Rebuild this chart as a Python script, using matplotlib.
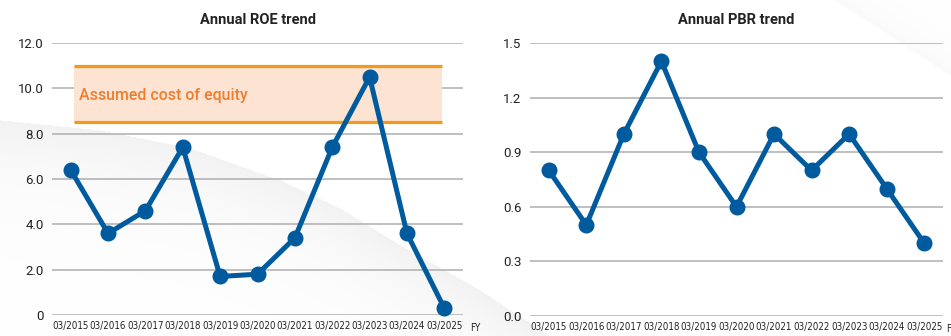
import numpy as np
import matplotlib
matplotlib.use("Agg")
import matplotlib.pyplot as plt
from matplotlib.font_manager import FontProperties

# ---- data ----
fiscal_years = ["03/2015", "03/2016", "03/2017", "03/2018", "03/2019", "03/2020",
                "03/2021", "03/2022", "03/2023", "03/2024", "03/2025"]
roe = [6.4, 3.6, 4.6, 7.4, 1.7, 1.8, 3.4, 7.4, 10.5, 3.6, 0.3]
pbr = [0.8, 0.5, 1.0, 1.4, 0.9, 0.6, 1.0, 0.8, 1.0, 0.7, 0.4]
cost_of_equity_low = 8.5
cost_of_equity_high = 11.0
roe_ticks = [0, 2, 4, 6, 8, 10, 12]
roe_ticklabels = ["0", "2.0", "4.0", "6.0", "8.0", "10.0", "12.0"]
pbr_ticks = [0.0, 0.3, 0.6, 0.9, 1.2, 1.5]
pbr_ticklabels = ["0.0", "0.3", "0.6", "0.9", "1.2", "1.5"]

# ---- style ----
BLUE = "#005a9e"
ORANGE = "#f39a1e"
BAND = "#fde4d2"
LABEL_ORANGE = "#f07d2c"
GRID = "#b4b4b4"
TEXT = "#222222"
plt.rcParams["font.family"] = ["Roboto", "DejaVu Sans"]
narrow = FontProperties(family=["DejaVu Sans Condensed", "DejaVu Sans"],
                        stretch="condensed", size=7.0)

W, H = 951, 336
fig = plt.figure(figsize=(W / 100, H / 100), dpi=100)

# soft grey swoosh in the background
bg = fig.add_axes([0, 0, 1, 1], zorder=-10)
bg.set_axis_off()
xx, yy = np.meshgrid(np.arange(W), np.arange(H))
edge_x = [0, 100, 190, 280, 340, 400, 480, 550, 700]
edge_y = [120, 130, 148, 180, 208, 245, 290, 336, 450]
edge = np.interp(xx, edge_x, edge_y)
d = yy - edge
shade = np.where(d >= 0, 0.05 * np.exp(-d / 55.0), 0.0)
# faint diagonal streak at the top right
d2 = (yy - (xx - 835) * 0.65)
shade2 = np.where(d2 <= 0, 0.02 * np.exp(d2 / 25.0), 0.0)
img = 1.0 - np.maximum(shade, shade2)
bg.imshow(np.dstack([img, img, img]), extent=[0, W, H, 0], aspect="auto",
          interpolation="bilinear")
bg.set_xlim(0, W)
bg.set_ylim(H, 0)


def style_axes(ax, ticks, ticklabels, ylim):
    ax.set_facecolor("none")
    ax.set_xlim(-0.5, len(fiscal_years) - 0.5)
    ax.set_ylim(*ylim)
    ax.set_yticks(ticks)
    ax.set_yticklabels(ticklabels, fontsize=9.5, color=TEXT)
    ax.set_xticks(range(len(fiscal_years)))
    ax.set_xticklabels(fiscal_years, color=TEXT, fontproperties=narrow)
    ax.tick_params(length=0)
    ax.tick_params(axis="y", pad=6)
    ax.tick_params(axis="x", pad=4)
    for s in ax.spines.values():
        s.set_visible(False)
    ax.yaxis.grid(True, color=GRID, linewidth=1.2)
    ax.set_axisbelow(True)


# ---- ROE ----
ax1 = fig.add_axes([52 / W, (H - 315) / H, 411 / W, 272 / H])
style_axes(ax1, roe_ticks, roe_ticklabels, (0, 12))
x = np.arange(len(fiscal_years))
ax1.fill_between([0.08, 9.95], cost_of_equity_low, cost_of_equity_high,
                 color=BAND, linewidth=0, zorder=1)
ax1.hlines([cost_of_equity_low, cost_of_equity_high], 0.08, 9.95,
           colors=ORANGE, linewidth=2.3, zorder=2)
ax1.text(0.22, 9.7, "Assumed cost of equity", color=LABEL_ORANGE,
         fontsize=11.4, fontweight="medium", va="center", ha="left", zorder=3)
ax1.plot(x, roe, color=BLUE, linewidth=3.6, marker="o", markersize=10.5,
         zorder=4, clip_on=False)
ax1.set_title("Annual ROE trend", fontsize=10.5, fontweight="bold",
              color=TEXT, pad=14)
ax1.text(1.017, -0.046, "FY", transform=ax1.transAxes, color=TEXT,
         fontproperties=narrow, ha="left", va="center")

# ---- PBR ----
ax2 = fig.add_axes([530 / W, (H - 316) / H, 413 / W, 273 / H])
style_axes(ax2, pbr_ticks, pbr_ticklabels, (0, 1.5))
ax2.plot(x, pbr, color=BLUE, linewidth=3.6, marker="o", markersize=10.5,
         zorder=4, clip_on=False)
ax2.set_title("Annual PBR trend", fontsize=10.5, fontweight="bold",
              color=TEXT, pad=14)
ax2.text(1.007, -0.046, "FY", transform=ax2.transAxes, color=TEXT,
         fontproperties=narrow, ha="left", va="center")

fig.savefig("out.png", dpi=100)
